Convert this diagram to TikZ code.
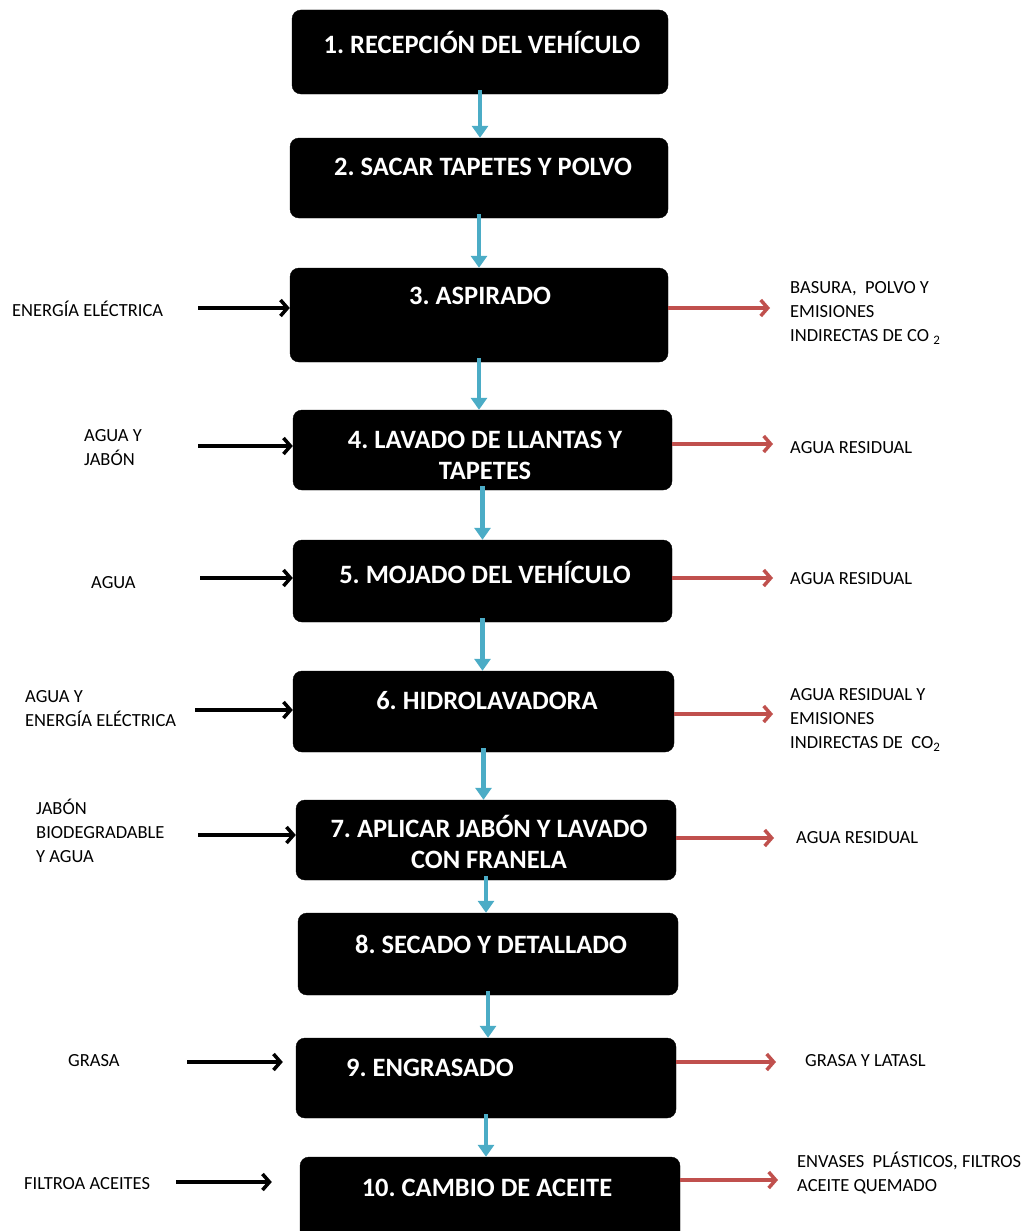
\documentclass[tikz,border=0pt]{standalone}
\usepackage{fontspec}
\setmainfont{Carlito}
\usetikzlibrary{arrows.meta}
\definecolor{flowblue}{RGB}{75,172,198}
\definecolor{outred}{RGB}{192,80,77}
\frenchspacing
\begin{document}
\begin{tikzpicture}[x=1pt,y=-1pt,
  stepbox/.style={fill=black, draw=black, rounded corners=9pt, inner sep=0pt},
  steptext/.style={text=white, font=\fontsize{26.5}{31}\selectfont\bfseries, align=center, inner sep=0pt},
  lbl/.style={font=\fontsize{18.5}{24}\selectfont, align=left, anchor=west, inner sep=0pt},
  flow/.style={draw=flowblue, line width=4.5pt, -{Triangle[length=12pt,width=16pt,fill=flowblue]}},
  inarr/.style={draw=black, line width=3.8pt, -{Straight Barb[length=7pt,width=16pt,line width=3.5pt]}},
  outarr/.style={draw=outred, line width=3.8pt, -{Straight Barb[length=7pt,width=16pt,line width=3.5pt]}}]
\useasboundingbox (0,0) rectangle (1030,1231);

% boxes
\node[stepbox, minimum width=376pt, minimum height=84pt] (b1) at (480,52) {};
\node[stepbox, minimum width=378pt, minimum height=80pt] (b2) at (479,178) {};
\node[stepbox, minimum width=378pt, minimum height=94pt] (b3) at (479,315) {};
\node[stepbox, minimum width=379pt, minimum height=80pt] (b4) at (482.5,450) {};
\node[stepbox, minimum width=379pt, minimum height=82pt] (b5) at (482.5,581) {};
\node[stepbox, minimum width=381pt, minimum height=81pt] (b6) at (483.5,711.5) {};
\node[stepbox, minimum width=380pt, minimum height=80pt] (b7) at (486,840) {};
\node[stepbox, minimum width=380pt, minimum height=82pt] (b8) at (488,954) {};
\node[stepbox, minimum width=380pt, minimum height=80pt] (b9) at (486,1078) {};
\node[stepbox, minimum width=380pt, minimum height=84pt] (b10) at (490,1199) {};

% box texts
\node[steptext] (t1) at (482,42) {1. RECEPCIÓN DEL VEHÍCULO};
\node[steptext] (t2) at (483,167) {2. SACAR TAPETES Y POLVO};
\node[steptext] (t3) at (480,296) {3. ASPIRADO};
\node[steptext] (t4) at (485,455) {4. LAVADO DE LLANTAS Y\\TAPETES};
\node[steptext] (t5) at (485,572) {5. MOJADO DEL VEHÍCULO};
\node[steptext] (t6) at (487,701) {6. HIDROLAVADORA};
\node[steptext] (t7) at (489,842) {7. APLICAR JABÓN Y LAVADO\\CON FRANELA};
\node[steptext] (t8) at (491,944) {8. SECADO Y DETALLADO};
\node[steptext] (t9) at (430,1068) {9. ENGRASADO};
\node[steptext] (t10) at (487,1188) {10. CAMBIO DE ACEITE};

% flow arrows
\foreach \a/\b in {b1/b2,b2/b3,b3/b4,b4/b5,b5/b6,b6/b7,b7/b8,b8/b9,b9/b10}{
  \draw[flow] ([yshift=4pt]\a.south) -- (\a.south |- \b.north);
}

% left labels
\node[lbl] (l3) at (12,309) {ENERGÍA ELÉCTRICA};
\node[lbl] (l4) at (84,448) {AGUA Y\\JABÓN};
\node[lbl] (l5) at (91,583) {AGUA};
\node[lbl] (l6) at (25,709) {AGUA Y\\ENERGÍA ELÉCTRICA};
\node[lbl] (l7) at (36,831) {JABÓN\\BIODEGRADABLE\\Y AGUA};
\node[lbl] (l9) at (68,1061) {GRASA};
\node[lbl] (l10) at (24,1184) {FILTROA ACEITES};

% right labels
\node[lbl] (r3) at (790,313) {BASURA,~ POLVO Y\\EMISIONES\\INDIRECTAS DE CO \textsubscript{2}};
\node[lbl] (r4) at (790,448) {AGUA RESIDUAL};
\node[lbl] (r5) at (790,579) {AGUA RESIDUAL};
\node[lbl] (r6) at (790,720) {AGUA RESIDUAL Y\\EMISIONES\\INDIRECTAS DE~ CO\textsubscript{2}};
\node[lbl] (r7) at (796,838) {AGUA RESIDUAL};
\node[lbl] (r9) at (805,1061) {GRASA Y LATASL};
\node[lbl] (r10) at (797,1173) {ENVASES~ PLÁSTICOS, FILTROS\\ACEITE QUEMADO};

% input arrows
\coordinate (i3) at (198,308);
\coordinate (i4) at (198,446);
\coordinate (i5) at (200,578);
\coordinate (i6) at (195,710);
\coordinate (i7) at (198,835);
\coordinate (i9) at (187,1062);
\coordinate (i10) at (176,1182);
\draw[inarr] (i3) -- (b3.west |- i3);
\draw[inarr] (i4) -- (b4.west |- i4);
\draw[inarr] (i5) -- (b5.west |- i5);
\draw[inarr] (i6) -- (b6.west |- i6);
\draw[inarr] (i7) -- (b7.west |- i7);
\draw[inarr] (i9) -- ([xshift=-13pt]b9.west |- i9);
\draw[inarr] (i10) -- ([xshift=-28pt]b10.west |- i10);

% output arrows
\coordinate (o3) at (770,308);
\coordinate (o4) at (773,444);
\coordinate (o5) at (773,578);
\coordinate (o6) at (773,714);
\coordinate (o7) at (774,838);
\coordinate (o9) at (776,1062);
\coordinate (o10) at (778,1180);
\draw[outarr] (b3.east |- o3) -- (o3);
\draw[outarr] (b4.east |- o4) -- (o4);
\draw[outarr] (b5.east |- o5) -- (o5);
\draw[outarr] (b6.east |- o6) -- (o6);
\draw[outarr] (b7.east |- o7) -- (o7);
\draw[outarr] (b9.east |- o9) -- (o9);
\draw[outarr] (b10.east |- o10) -- (o10);
\end{tikzpicture}
\end{document}
